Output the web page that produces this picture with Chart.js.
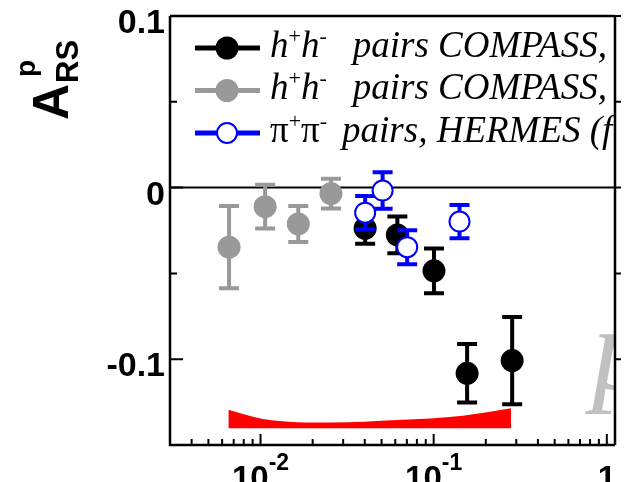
<!DOCTYPE html>
<html>
<head>
<meta charset="utf-8">
<script src="https://cdn.jsdelivr.net/npm/chart.js@4.4.1/dist/chart.umd.min.js"></script>
<style>
html, body { margin: 0; padding: 0; background: #fff; }
</style>
</head>
<body>
<canvas id="chart" width="627" height="482"></canvas>
<script>
// h+h- pairs COMPASS (black, filled)
const blackX = [0.0402, 0.0617, 0.1004, 0.156, 0.284];
const blackY = [-0.0237, -0.0276, -0.0485, -0.1082, -0.1008];
const blackErr = [0.009, 0.0107, 0.013, 0.0171, 0.0254];

// h+h- pairs COMPASS (grey, filled)
const greyX = [0.00658, 0.01063, 0.01652, 0.02552];
const greyY = [-0.0347, -0.0111, -0.0212, -0.0035];
const greyErr = [0.024, 0.0127, 0.0105, 0.0087];

// pi+pi- pairs HERMES (blue, open)
const blueX = [0.0402, 0.0507, 0.0703, 0.141];
const blueY = [-0.0146, -0.0017, -0.0347, -0.0198];
const blueErr = [0.0097, 0.0106, 0.0099, 0.0097];

// systematic band (red)
const bandX = [0.00652, 0.0103, 0.0257, 0.0617, 0.1474, 0.28];
const bandHigh = [-0.1295, -0.1348, -0.1369, -0.1355, -0.1329, -0.1286];
const bandLow = [-0.1402, -0.1402, -0.1402, -0.1402, -0.1402, -0.1402];

// axes
const xMin = 0.003, xMax = 1.115;
const yMin = -0.15, yMax = 0.1;
const yTicks = [-0.1, -0.05, 0, 0.05, 0.1];
const yTickLabels = ['-0.1', '', '0', '', '0.1'];
const xTicks = [0.01, 0.1, 1];
const xTickBase = ['10', '10', '1'];
const xTickExp = ['-2', '-1', ''];

// legend text runs; a number is a gap in pixels
const legendRows = [
    { color: '#000000', open: false, text: [['h', 'it'], ['+', 'sup'], ['h', 'it'], ['-', 'sup'], 26, ['pairs COMPASS,', 'it']] },
    { color: '#999999', open: false, text: [['h', 'it'], ['+', 'sup'], ['h', 'it'], ['-', 'sup'], 26, ['pairs COMPASS,', 'it']] },
    { color: '#0000ff', open: true, text: [['\u03c0', 'rm'], ['+', 'sup'], ['\u03c0', 'rm'], ['-', 'sup'], 15, ['pairs, HERMES (f', 'it']] }
];

const fonts = {
    it: 'italic 37px "Liberation Serif"',
    rm: '37px "Liberation Serif"',
    sup: '22px "Liberation Serif"'
};

function pts(xs, ys) {
    return xs.map((x, i) => ({ x: x, y: ys[i] }));
}

function drawRuns(ctx, x, y, runs) {
    runs.forEach(r => {
        if (typeof r === 'number') { x += r; return; }
        ctx.font = fonts[r[1]];
        ctx.fillText(r[0], x, r[1] === 'sup' ? y - 14 : y);
        x += ctx.measureText(r[0]).width;
    });
}

// error bars, drawn just below each dataset's markers
const errorBars = {
    id: 'errorBars',
    beforeDatasetDraw(chart, args) {
        const ds = chart.data.datasets[args.index];
        if (!ds.errors) return;
        const { ctx, scales: { x, y } } = chart;
        ctx.save();
        ctx.strokeStyle = ds.errColor;
        ctx.lineWidth = 4;
        ds.data.forEach((p, i) => {
            const px = x.getPixelForValue(p.x);
            const top = y.getPixelForValue(p.y + ds.errors[i]);
            const bot = y.getPixelForValue(p.y - ds.errors[i]);
            ctx.beginPath();
            ctx.moveTo(px, top); ctx.lineTo(px, bot);
            ctx.moveTo(px - 10, top); ctx.lineTo(px + 10, top);
            ctx.moveTo(px - 10, bot); ctx.lineTo(px + 10, bot);
            ctx.stroke();
        });
        ctx.restore();
    }
};

// frame, ticks, zero line and the big grey letter
const frame = {
    id: 'frame',
    beforeDatasetsDraw(chart) {
        const { ctx, chartArea: a, scales: { x, y } } = chart;
        ctx.save();

        ctx.save();
        ctx.beginPath();
        ctx.rect(a.left, a.top, a.right - a.left, a.bottom - a.top);
        ctx.clip();
        ctx.fillStyle = '#c0c0c0';
        ctx.font = 'italic 118px "Liberation Serif"';
        ctx.fillText('p', 592, 389);
        ctx.restore();

        ctx.strokeStyle = '#000';
        ctx.lineWidth = 2.5;
        ctx.beginPath();
        ctx.moveTo(a.left, a.top); ctx.lineTo(a.left, a.bottom);
        ctx.lineTo(a.right, a.bottom);
        ctx.moveTo(a.left, a.top); ctx.lineTo(a.right, a.top);
        ctx.moveTo(a.right, a.top); ctx.lineTo(a.right, a.bottom);
        ctx.stroke();

        ctx.lineWidth = 2;
        const y0 = y.getPixelForValue(0);
        ctx.beginPath();
        ctx.moveTo(a.left, y0); ctx.lineTo(a.right, y0);
        ctx.stroke();

        // y ticks: inside on the left, outside on the right
        yTicks.forEach((v, i) => {
            const py = y.getPixelForValue(v);
            const len = yTickLabels[i] ? 13 : 7;
            ctx.beginPath();
            ctx.moveTo(a.left, py); ctx.lineTo(a.left + len, py);
            ctx.moveTo(a.right, py); ctx.lineTo(a.right + 6, py);
            ctx.stroke();
        });

        // log x ticks, inside
        for (let d = -3; d <= 0; d++) {
            for (let m = 1; m <= 9; m++) {
                const v = m * Math.pow(10, d);
                if (v < xMin || v > xMax) continue;
                const px = x.getPixelForValue(v);
                ctx.beginPath();
                ctx.moveTo(px, a.bottom);
                ctx.lineTo(px, a.bottom - (m === 1 ? 11 : 6));
                ctx.stroke();
            }
        }
        ctx.restore();
    },
    afterDraw(chart) {
        const { ctx, chartArea: a, scales: { x, y } } = chart;
        ctx.save();
        ctx.fillStyle = '#000';
        ctx.textBaseline = 'alphabetic';

        // y tick labels
        ctx.font = 'bold 34px "Liberation Sans"';
        ctx.textAlign = 'right';
        yTicks.forEach((v, i) => {
            if (!yTickLabels[i]) return;
            ctx.fillText(yTickLabels[i], a.left - 5, y.getPixelForValue(v) + 17);
        });

        // x tick labels with exponents
        ctx.textAlign = 'left';
        xTicks.forEach((v, i) => {
            ctx.font = 'bold 33px "Liberation Sans"';
            const wb = ctx.measureText(xTickBase[i]).width;
            ctx.font = 'bold 23px "Liberation Sans"';
            const we = ctx.measureText(xTickExp[i]).width;
            const px = x.getPixelForValue(v) - (wb + we) / 2;
            ctx.font = 'bold 33px "Liberation Sans"';
            ctx.fillText(xTickBase[i], px, a.bottom + 44);
            ctx.font = 'bold 23px "Liberation Sans"';
            ctx.fillText(xTickExp[i], px + wb, a.bottom + 25);
        });

        // y title A^p_RS, rotated
        ctx.save();
        ctx.rotate(-Math.PI / 2);
        ctx.font = 'bold 50px "Liberation Sans"';
        ctx.fillText('A', -120, 68);
        ctx.font = 'bold 31px "Liberation Sans"';
        ctx.fillText('RS', -83, 78);
        ctx.font = 'bold 28px "Liberation Sans"';
        ctx.fillText('p', -77, 35);
        ctx.restore();

        // legend, clipped by the frame
        ctx.save();
        ctx.beginPath();
        ctx.rect(a.left, a.top, a.right - a.left - 1, a.bottom - a.top);
        ctx.clip();
        legendRows.forEach((r, i) => {
            const cy = 48 + i * 42.5;
            ctx.strokeStyle = r.color;
            ctx.lineWidth = 5;
            ctx.beginPath();
            ctx.moveTo(195, cy); ctx.lineTo(260, cy);
            ctx.stroke();
            ctx.beginPath();
            if (r.open) {
                ctx.arc(227, cy, 10, 0, Math.PI * 2);
                ctx.fillStyle = '#fff';
                ctx.fill();
                ctx.lineWidth = 2;
                ctx.stroke();
            } else {
                ctx.arc(227, cy, 11.5, 0, Math.PI * 2);
                ctx.fillStyle = r.color;
                ctx.fill();
            }
            ctx.fillStyle = '#000';
            drawRuns(ctx, 270, cy + 8.5, r.text);
        });
        ctx.restore();

        ctx.restore();
    }
};

new Chart(document.getElementById('chart'), {
    type: 'scatter',
    data: {
        datasets: [
            {
                label: 'pi+pi- pairs, HERMES',
                data: pts(blueX, blueY),
                errors: blueErr,
                errColor: '#0000ff',
                pointRadius: 10,
                pointBorderWidth: 2,
                pointBorderColor: '#0000ff',
                pointBackgroundColor: '#ffffff',
                order: 1
            },
            {
                label: 'h+h- pairs COMPASS (black)',
                data: pts(blackX, blackY),
                errors: blackErr,
                errColor: '#000000',
                pointRadius: 11.5,
                pointBorderWidth: 0,
                pointBackgroundColor: '#000000',
                order: 2
            },
            {
                label: 'h+h- pairs COMPASS (grey)',
                data: pts(greyX, greyY),
                errors: greyErr,
                errColor: '#999999',
                pointRadius: 11.5,
                pointBorderWidth: 0,
                pointBackgroundColor: '#999999',
                order: 3
            },
            {
                label: 'band low',
                data: pts(bandX, bandLow),
                showLine: true,
                pointRadius: 0,
                borderWidth: 0,
                borderColor: 'rgba(0,0,0,0)',
                fill: false,
                order: 4
            },
            {
                label: 'band high',
                data: pts(bandX, bandHigh),
                showLine: true,
                pointRadius: 0,
                borderWidth: 0,
                borderColor: 'rgba(0,0,0,0)',
                backgroundColor: '#ff0000',
                cubicInterpolationMode: 'monotone',
                fill: '-1',
                order: 5
            }
        ]
    },
    options: {
        responsive: false,
        devicePixelRatio: 1,
        animation: false,
        layout: { padding: { left: 170, top: 16, right: 7, bottom: 37 } },
        plugins: {
            legend: { display: false },
            tooltip: { enabled: false }
        },
        scales: {
            x: { type: 'logarithmic', min: xMin, max: xMax, display: false },
            y: { type: 'linear', min: yMin, max: yMax, display: false }
        }
    },
    plugins: [errorBars, frame]
});
</script>
</body>
</html>
